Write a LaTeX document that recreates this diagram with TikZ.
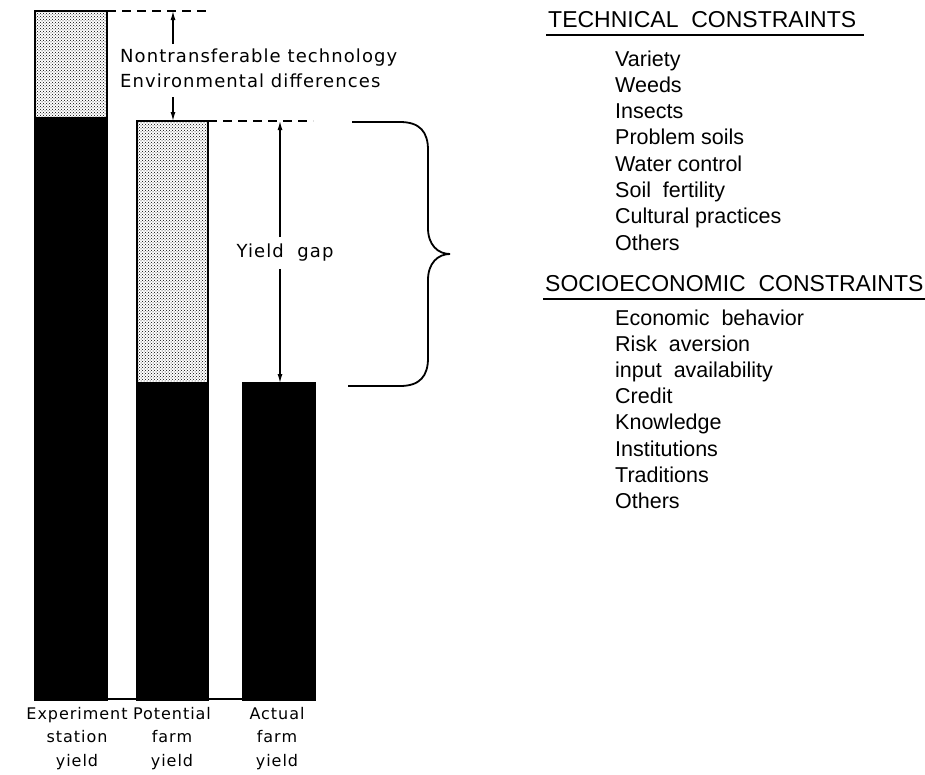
\documentclass[tikz,border=0pt]{standalone}
\usepackage{fontspec}
\setmainfont{Liberation Sans}
\newfontfamily\leroy[LetterSpace=6]{DejaVu Sans}
\usetikzlibrary{arrows.meta,patterns}

\begin{document}
\begin{tikzpicture}[
  x=1pt, y=-1pt,
  stipple/.style={pattern=crosshatch dots, draw, line width=2.5pt},
  solidbar/.style={fill=black, draw, line width=2.5pt},
  guide/.style={dash pattern=on 9pt off 6pt, line width=1.6pt},
  arrow/.style={-{Latex[length=9pt,width=5pt]}, line width=1.3pt},
  note/.style={font=\leroy\fontsize{18}{22}\selectfont, inner sep=4pt},
  caption/.style={font=\leroy\fontsize{16}{23.5}\selectfont, align=center, inner sep=0pt},
  head/.style={font=\fontsize{23}{26}\selectfont, anchor=base west, inner xsep=0pt, inner ysep=7.5pt},
  item/.style={font=\fontsize{21.5}{26}\selectfont, anchor=base west, inner sep=0pt},
  rule/.style={line width=1.4pt}
]
\useasboundingbox (0,0) rectangle (925,774);

\path[solidbar] (35,118) rectangle (107,700);
\path[stipple] (35,11) rectangle (107,118);
\path[solidbar] (137,383) rectangle (208,700);
\path[stipple] (137,121) rectangle (208,383);
\path[solidbar] (243,383) rectangle (315,700);
\draw[line width=2pt] (35,699) -- (315,699);

\coordinate (es top) at (107,11);
\coordinate (pf top) at (208,121);
\draw[guide] (es top) -- ++(103,0);
\draw[guide] (pf top) -- ++(105,0);

\node[note, anchor=base west] (nt) at (116,62) {Nontransferable technology};
\node[note, anchor=base west, text depth=6pt] (ed) at (116,87) {Environmental differences};
\coordinate (up) at (173,11);
\coordinate (down) at (173,121);
\draw[arrow] (nt.north -| up) -- (up);
\draw[arrow] (ed.south -| down) -- (down);

\coordinate (gap top) at (280,121);
\coordinate (gap bot) at (280,383);
\node[note, inner ysep=7pt] (yg) at (285,253) {Yield\ \ gap};
\draw[arrow] (yg.north -| gap top) -- (gap top);
\draw[arrow] (yg.south -| gap bot) -- (gap bot);

\draw[line width=1.8pt] (352,122) -- (400,122)
  .. controls (420,122) and (428,132) .. (428,150) -- (428,228)
  .. controls (428,245) and (438,254) .. (450,254)
  .. controls (438,254) and (428,263) .. (428,280) -- (428,358)
  .. controls (428,376) and (420,386) .. (400,386) -- (348,386);

\node[caption, anchor=north] (esl) at (77,707) {Experiment\\station\\yield};
\node[caption, anchor=north] (pfl) at (172,707) {Potential\\farm\\yield};
\node[caption, anchor=north] (afl) at (277,707) {Actual\\farm\\yield};

\node[head] (tech) at (548,27) {TECHNICAL\ \ CONSTRAINTS};
\draw[rule] ([xshift=-2pt]tech.south west) -- ([xshift=8pt]tech.south east);
\foreach \i/\txt in {0/Variety,1/Weeds,2/Insects,3/Problem soils,4/Water control,5/Soil\ \ fertility,6/Cultural practices,7/Others}
  \node[item] (tc\i) at (615,{66+26.3*\i}) {\txt};

\node[head] (socio) at (545,291) {SOCIOECONOMIC\ \ CONSTRAINTS};
\draw[rule] ([xshift=-2pt]socio.south west) -- (925,0 |- socio.south);
\foreach \i/\txt in {0/Economic\ \ behavior,1/Risk\ \ aversion,2/input\ \ availability,3/Credit,4/Knowledge,5/Institutions,6/Traditions,7/Others}
  \node[item] (sc\i) at (615,{325+26.2*\i}) {\txt};
\end{tikzpicture}
\end{document}
